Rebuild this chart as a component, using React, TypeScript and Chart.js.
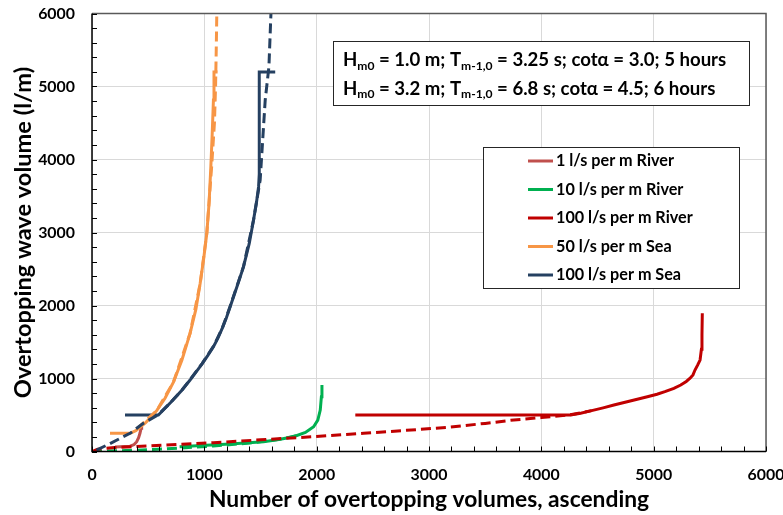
import React, { useEffect, useRef } from "react";
import { Chart, registerables } from "chart.js";

Chart.register(...registerables);

// ---------- data ----------
const xTickValues = [0, 1000, 2000, 3000, 4000, 5000, 6000];
const yTickValues = [0, 1000, 2000, 3000, 4000, 5000, 6000];
const minorStep = 200;

const xTitle = "Number of overtopping volumes, ascending";
const yTitle = "Overtopping wave volume (l/m)";

const seriesLabels = [
  "1 l/s per m River",
  "10 l/s per m River",
  "100 l/s per m River",
  "50 l/s per m Sea",
  "100 l/s per m Sea",
];

// 1 l/s per m River (measured / solid)
const river1X = [205, 339, 375, 398, 415, 427, 437, 442];
const river1Y = [60, 72, 95, 134, 190, 249, 318, 340];

// 10 l/s per m River
const river10X = [780, 933, 1230, 1527, 1650, 1794, 1900, 1973, 2010, 2032, 2042, 2047];
const river10Y = [65, 80, 103, 134, 160, 203, 260, 340, 430, 568, 750, 911];
const river10TheoryX = [0, 300, 635, 1081, 1400, 1700, 1850];
const river10TheoryY = [0, 12, 34, 75, 115, 175, 230];

// 100 l/s per m River
const river100X = [2344, 4260, 4350, 4448, 4550, 4646, 4800, 4944, 5030, 5100, 5180, 5241, 5290, 5324, 5350, 5368, 5390, 5413, 5425, 5430, 5433];
const river100Y = [500, 500, 525, 560, 598, 637, 695, 751, 785, 820, 865, 911, 960, 1003, 1050, 1116, 1180, 1253, 1400, 1600, 1893];
const river100TheoryX = [0, 50, 200, 487, 800, 1081, 1500, 1973, 2418, 2800, 3161, 3500, 3755, 4000, 4250, 4448];
const river100TheoryY = [0, 30, 55, 75, 100, 121, 160, 203, 249, 290, 331, 385, 432, 465, 500, 560];

// 50 l/s per m Sea
const sea50X = [160, 340, 390, 430, 480, 530, 576, 650, 725, 800, 873, 925, 963, 995, 1022, 1042, 1058, 1070, 1081, 1086, 1118];
const sea50Y = [250, 250, 285, 335, 400, 480, 560, 730, 950, 1250, 1619, 1950, 2304, 2650, 2989, 3400, 3902, 4350, 4815, 5200, 5200];
const sea50TheoryX = [400, 576, 725, 873, 963, 1022, 1065, 1090, 1100, 1106, 1111];
const sea50TheoryY = [310, 560, 950, 1620, 2300, 2990, 3900, 4500, 5000, 5500, 6000];

// 100 l/s per m Sea
const sea100X = [294, 591, 700, 800, 873, 980, 1030, 1081, 1120, 1160, 1195, 1230, 1300, 1349, 1400, 1438, 1465, 1483, 1489, 1489, 1631];
const sea100Y = [500, 500, 670, 840, 979, 1200, 1312, 1436, 1549, 1690, 1826, 1984, 2300, 2532, 2850, 3171, 3420, 3628, 3800, 5200, 5200];
const sea100TheoryX = [40, 150, 250, 339, 457, 591, 700, 800, 873, 980, 1081, 1160, 1230, 1349, 1438, 1497, 1542, 1575, 1593];
const sea100TheoryY = [20, 100, 180, 249, 386, 505, 670, 840, 985, 1205, 1440, 1690, 1990, 2535, 3171, 3719, 4815, 5271, 6000];

const seriesColors = ["#C0504D", "#00B050", "#C00000", "#F79646", "#254061"];

const annotationLines = [
  { h: "1.0", t: "3.25", cot: "3.0", hours: "5" },
  { h: "3.2", t: "6.8", cot: "4.5", hours: "6" },
];

const FONT = "Lato, 'Open Sans', 'DejaVu Sans', sans-serif";

const pts = (xs: number[], ys: number[]) => xs.map((x, i) => ({ x, y: ys[i] }));

// size a bold font so that `text` is `target` px wide
function fitSize(ctx: CanvasRenderingContext2D, text: string, target: number) {
  ctx.font = `bold 100px ${FONT}`;
  const w = ctx.measureText(text).width || 1;
  return Math.round((100 * target) / w * 10) / 10;
}

const annotationSegments = (ln: any) => [
  { text: "H", sub: false },
  { text: "m0", sub: true },
  { text: ` = ${ln.h} m; T`, sub: false },
  { text: "m-1,0", sub: true },
  { text: ` = ${ln.t} s; cotα = ${ln.cot}; ${ln.hours} hours`, sub: false },
];

// ---------- plugins ----------
const frameAndTicks = {
  id: "frameAndTicks",
  afterDatasetsDraw(chart: any) {
    const { ctx, chartArea } = chart;
    const xs = chart.scales.x;
    const ys = chart.scales.y;
    const { left, right, top, bottom } = chartArea;
    ctx.save();
    ctx.strokeStyle = "#595959";
    ctx.lineWidth = 1.5;
    ctx.beginPath();
    ctx.moveTo(left, top);
    ctx.lineTo(right, top);
    ctx.lineTo(right, bottom);
    ctx.stroke();
    ctx.strokeStyle = "#000";
    ctx.lineWidth = 1.5;
    ctx.beginPath();
    ctx.moveTo(left, top);
    ctx.lineTo(left, bottom);
    ctx.lineTo(right, bottom);
    ctx.stroke();
    ctx.lineWidth = 1;
    ctx.beginPath();
    for (let v = xs.min; v <= xs.max; v += minorStep) {
      const px = Math.round(xs.getPixelForValue(v)) + 0.5;
      ctx.moveTo(px, bottom);
      ctx.lineTo(px, bottom - 5);
    }
    for (let v = ys.min; v <= ys.max; v += minorStep) {
      const py = Math.round(ys.getPixelForValue(v)) + 0.5;
      ctx.moveTo(left, py);
      ctx.lineTo(left + 5, py);
    }
    ctx.stroke();
    ctx.restore();
  },
};

const makeBoxes = (annoSize: number, subSize: number, legendSize: number) => ({
  id: "boxes",
  afterDraw(chart: any) {
    const { ctx } = chart;
    ctx.save();
    // annotation box
    ctx.fillStyle = "#fff";
    ctx.fillRect(333.5, 41.5, 416, 64);
    ctx.strokeStyle = "#262626";
    ctx.lineWidth = 1;
    ctx.strokeRect(333.5, 41.5, 416, 64);
    ctx.fillStyle = "#000";
    ctx.textBaseline = "alphabetic";
    annotationLines.forEach((ln, i) => {
      const base = 66 + i * 28.5;
      let x = 343;
      annotationSegments(ln).forEach((s) => {
        ctx.font = `bold ${s.sub ? subSize : annoSize}px ${FONT}`;
        ctx.fillText(s.text, x, s.sub ? base + 3.5 : base);
        x += ctx.measureText(s.text).width;
      });
    });

    // legend box
    ctx.fillStyle = "#fff";
    ctx.fillRect(483.5, 147.5, 256, 141);
    ctx.strokeStyle = "#262626";
    ctx.strokeRect(483.5, 147.5, 256, 141);
    const legendSets = chart.data.datasets.filter((d: any) => !d.borderDash);
    ctx.font = `bold ${legendSize}px ${FONT}`;
    ctx.textBaseline = "middle";
    legendSets.forEach((d: any, i: number) => {
      const cy = 161 + i * 28.5;
      ctx.strokeStyle = d.borderColor;
      ctx.lineWidth = 3;
      ctx.beginPath();
      ctx.moveTo(528, cy);
      ctx.lineTo(553, cy);
      ctx.stroke();
      ctx.fillStyle = "#000";
      ctx.fillText(d.label, 556, cy);
    });
    ctx.restore();
  },
});

export default function App() {
  const canvasRef = useRef<HTMLCanvasElement | null>(null);

  useEffect(() => {
    document.body.style.margin = "0";
    const canvas = canvasRef.current;
    if (!canvas) return;

    const mctx = document.createElement("canvas").getContext("2d") as CanvasRenderingContext2D;
    const xTitleSize = fitSize(mctx, xTitle, 441);
    const yTitleSize = fitSize(mctx, yTitle, 332);
    const tickSize = Math.min(17, fitSize(mctx, "6000", 37));
    const legendSize = fitSize(mctx, seriesLabels[2], 137);
    // annotation: main size so that line 1 is ~384 px wide, subscripts at 0.65
    const probe = annotationSegments(annotationLines[0]);
    mctx.font = `bold 100px ${FONT}`;
    let mainW = 0;
    let subW = 0;
    probe.forEach((s) => {
      const w = mctx.measureText(s.text).width;
      if (s.sub) subW += w;
      else mainW += w;
    });
    const annoSize = Math.round((384 / (mainW + 0.65 * subW)) * 100 * 10) / 10;
    const subSize = Math.round(annoSize * 0.65 * 10) / 10;

    const solid = (label: string, color: string, data: any[], order: number) => ({
      label,
      data,
      borderColor: color,
      backgroundColor: color,
      borderWidth: 3,
      pointRadius: 0,
      showLine: true,
      fill: false,
      tension: 0,
      order,
    });
    const dashed = (label: string, color: string, data: any[], order: number) => ({
      ...solid(label, color, data, order),
      borderDash: [10, 5],
    });

    const tickFont = { family: FONT, size: tickSize, weight: "bold" };

    const chart = new Chart(canvas, {
      type: "scatter",
      data: {
        datasets: [
          solid(seriesLabels[0], seriesColors[0], pts(river1X, river1Y), 9),
          solid(seriesLabels[1], seriesColors[1], pts(river10X, river10Y), 8),
          solid(seriesLabels[2], seriesColors[2], pts(river100X, river100Y), 7),
          solid(seriesLabels[3], seriesColors[3], pts(sea50X, sea50Y), 6),
          solid(seriesLabels[4], seriesColors[4], pts(sea100X, sea100Y), 5),
          dashed(seriesLabels[1] + " theory", seriesColors[1], pts(river10TheoryX, river10TheoryY), 4),
          dashed(seriesLabels[2] + " theory", seriesColors[2], pts(river100TheoryX, river100TheoryY), 3),
          dashed(seriesLabels[3] + " theory", seriesColors[3], pts(sea50TheoryX, sea50TheoryY), 2),
          dashed(seriesLabels[4] + " theory", seriesColors[4], pts(sea100TheoryX, sea100TheoryY), 1),
        ] as any,
      },
      options: {
        responsive: false,
        maintainAspectRatio: false,
        animation: false,
        layout: { padding: { left: 0, top: 13.5, right: 17, bottom: 0 } },
        plugins: { legend: { display: false }, tooltip: { enabled: false } },
        scales: {
          x: {
            type: "linear",
            min: xTickValues[0],
            max: xTickValues[xTickValues.length - 1],
            afterBuildTicks: (s: any) => {
              s.ticks = xTickValues.map((v) => ({ value: v }));
            },
            afterFit: (s: any) => {
              s.height = 63.5;
              s.paddingLeft = 0;
              s.paddingRight = 0;
            },
            ticks: {
              color: "#000",
              padding: Math.max(0, 23.5 - tickSize * 0.6),
              font: tickFont,
              callback: (v: any) => String(v),
            },
            grid: { color: "#d9d9d9", lineWidth: 1, drawTicks: false },
            border: { display: false },
            title: {
              display: true,
              text: xTitle,
              color: "#000",
              font: { family: FONT, size: xTitleSize, weight: "bold" },
              padding: { top: 0, bottom: Math.max(0, 15 - xTitleSize * 0.6) },
            },
          },
          y: {
            type: "linear",
            min: yTickValues[0],
            max: yTickValues[yTickValues.length - 1],
            afterBuildTicks: (s: any) => {
              s.ticks = yTickValues.map((v) => ({ value: v }));
            },
            afterFit: (s: any) => {
              s.width = 92;
              s.paddingTop = 0;
              s.paddingBottom = 0;
            },
            ticks: {
              color: "#000",
              padding: 17,
              font: tickFont,
              callback: (v: any) => String(v),
            },
            grid: { color: "#d9d9d9", lineWidth: 1, drawTicks: false },
            border: { display: false },
            title: {
              display: true,
              text: yTitle,
              color: "#000",
              font: { family: FONT, size: yTitleSize, weight: "bold" },
              padding: { top: Math.max(0, 23 - yTitleSize * 0.6), bottom: 0 },
            },
          },
        },
      } as any,
      plugins: [frameAndTicks, makeBoxes(annoSize, subSize, legendSize)],
    });

    return () => chart.destroy();
  }, []);

  return (
    <div style={{ width: 783, height: 515 }}>
      <canvas ref={canvasRef} width={783} height={515} style={{ display: "block" }} />
    </div>
  );
}
